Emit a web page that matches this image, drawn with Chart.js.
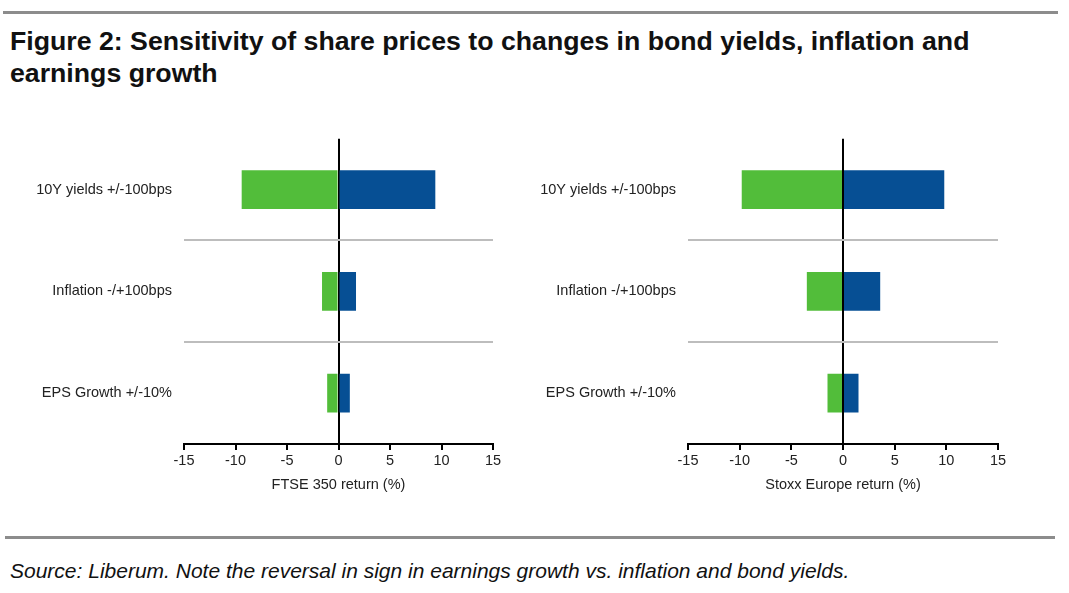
<!DOCTYPE html>
<html>
<head>
<meta charset="utf-8">
<script src="https://cdn.jsdelivr.net/npm/chart.js@4/dist/chart.umd.min.js"></script>
<style>
  body { margin: 0; background: #fff; width: 1069px; height: 593px; position: relative; overflow: hidden; }
  .rule { position: absolute; height: 3px; background: #8c8c8c; }
  #title { position: absolute; left: 10px; top: 25px; font: bold 26.7px "Liberation Sans", Arial, sans-serif; line-height: 32px; color: #111; white-space: nowrap; }
  #source { position: absolute; left: 10px; top: 559px; font: italic 21px "Liberation Sans", Arial, sans-serif; color: #111; white-space: nowrap; }
  .box { position: absolute; top: 118px; width: 530px; height: 385px; }
</style>
</head>
<body>
<div class="rule" style="left:3px; top:11px; width:1055px;"></div>
<div id="title">Figure 2: Sensitivity of share prices to changes in bond yields, inflation and<br>earnings growth</div>
<div class="box" style="left:0px;"><canvas id="ftse"></canvas></div>
<div class="box" style="left:505px;"><canvas id="stoxx"></canvas></div>
<div class="rule" style="left:5px; top:536px; width:1050px;"></div>
<div id="source">Source: Liberum. Note the reversal in sign in earnings growth vs. inflation and bond yields.</div>
<script>
const categories = ['10Y yields +/-100bps', 'Inflation -/+100bps', 'EPS Growth +/-10%'];

// FTSE 350 return (%)
const ftseDown = [-9.4, -1.6, -1.1];
const ftseUp = [9.4, 1.7, 1.1];

// Stoxx Europe return (%)
const stoxxDown = [-9.8, -3.5, -1.5];
const stoxxUp = [9.8, 3.6, 1.5];

const green = '#52bd3a';
const blue = '#064f94';
const labelFont = { family: '"Liberation Sans", Arial, sans-serif', size: 14.5 };

const makeChart = (canvas, title, down, up, leftWidth) => {
  return new Chart(canvas, {
    type: 'bar',
    data: {
      labels: categories,
      datasets: [
        { data: down, backgroundColor: green, barPercentage: 0.38, categoryPercentage: 1 },
        { data: up, backgroundColor: blue, barPercentage: 0.38, categoryPercentage: 1 }
      ]
    },
    options: {
      indexAxis: 'y',
      responsive: true,
      maintainAspectRatio: false,
      animation: false,
      layout: { padding: { left: 0, right: 37, top: 0, bottom: 0 } },
      scales: {
        x: {
          stacked: true,
          min: -15,
          max: 15,
          ticks: { stepSize: 5, color: '#222', font: labelFont, padding: 2 },
          grid: {
            color: ctx => (ctx.tick && ctx.tick.value === 0) ? '#000' : 'rgba(0,0,0,0)',
            lineWidth: 2,
            tickColor: '#000',
            tickLength: 6,
            tickWidth: 2
          },
          border: { display: true, color: '#000', width: 2 },
          title: { display: true, text: title, color: '#222', font: labelFont, padding: { top: 4, bottom: 9 } },
          afterFit: scale => { scale.height = 59; }
        },
        y: {
          stacked: true,
          ticks: { color: '#222', font: labelFont, padding: 12 },
          grid: {
            offset: true,
            drawTicks: false,
            color: ctx => (ctx.index === 1 || ctx.index === 2) ? '#bdbdbd' : 'rgba(0,0,0,0)',
            lineWidth: 2
          },
          border: { display: false },
          afterFit: scale => { scale.width = leftWidth; }
        }
      },
      plugins: {
        legend: { display: false },
        tooltip: { enabled: false }
      }
    }
  });
};

makeChart(document.getElementById('ftse'), 'FTSE 350 return (%)', ftseDown, ftseUp, 184);
makeChart(document.getElementById('stoxx'), 'Stoxx Europe return (%)', stoxxDown, stoxxUp, 183);
</script>
</body>
</html>
